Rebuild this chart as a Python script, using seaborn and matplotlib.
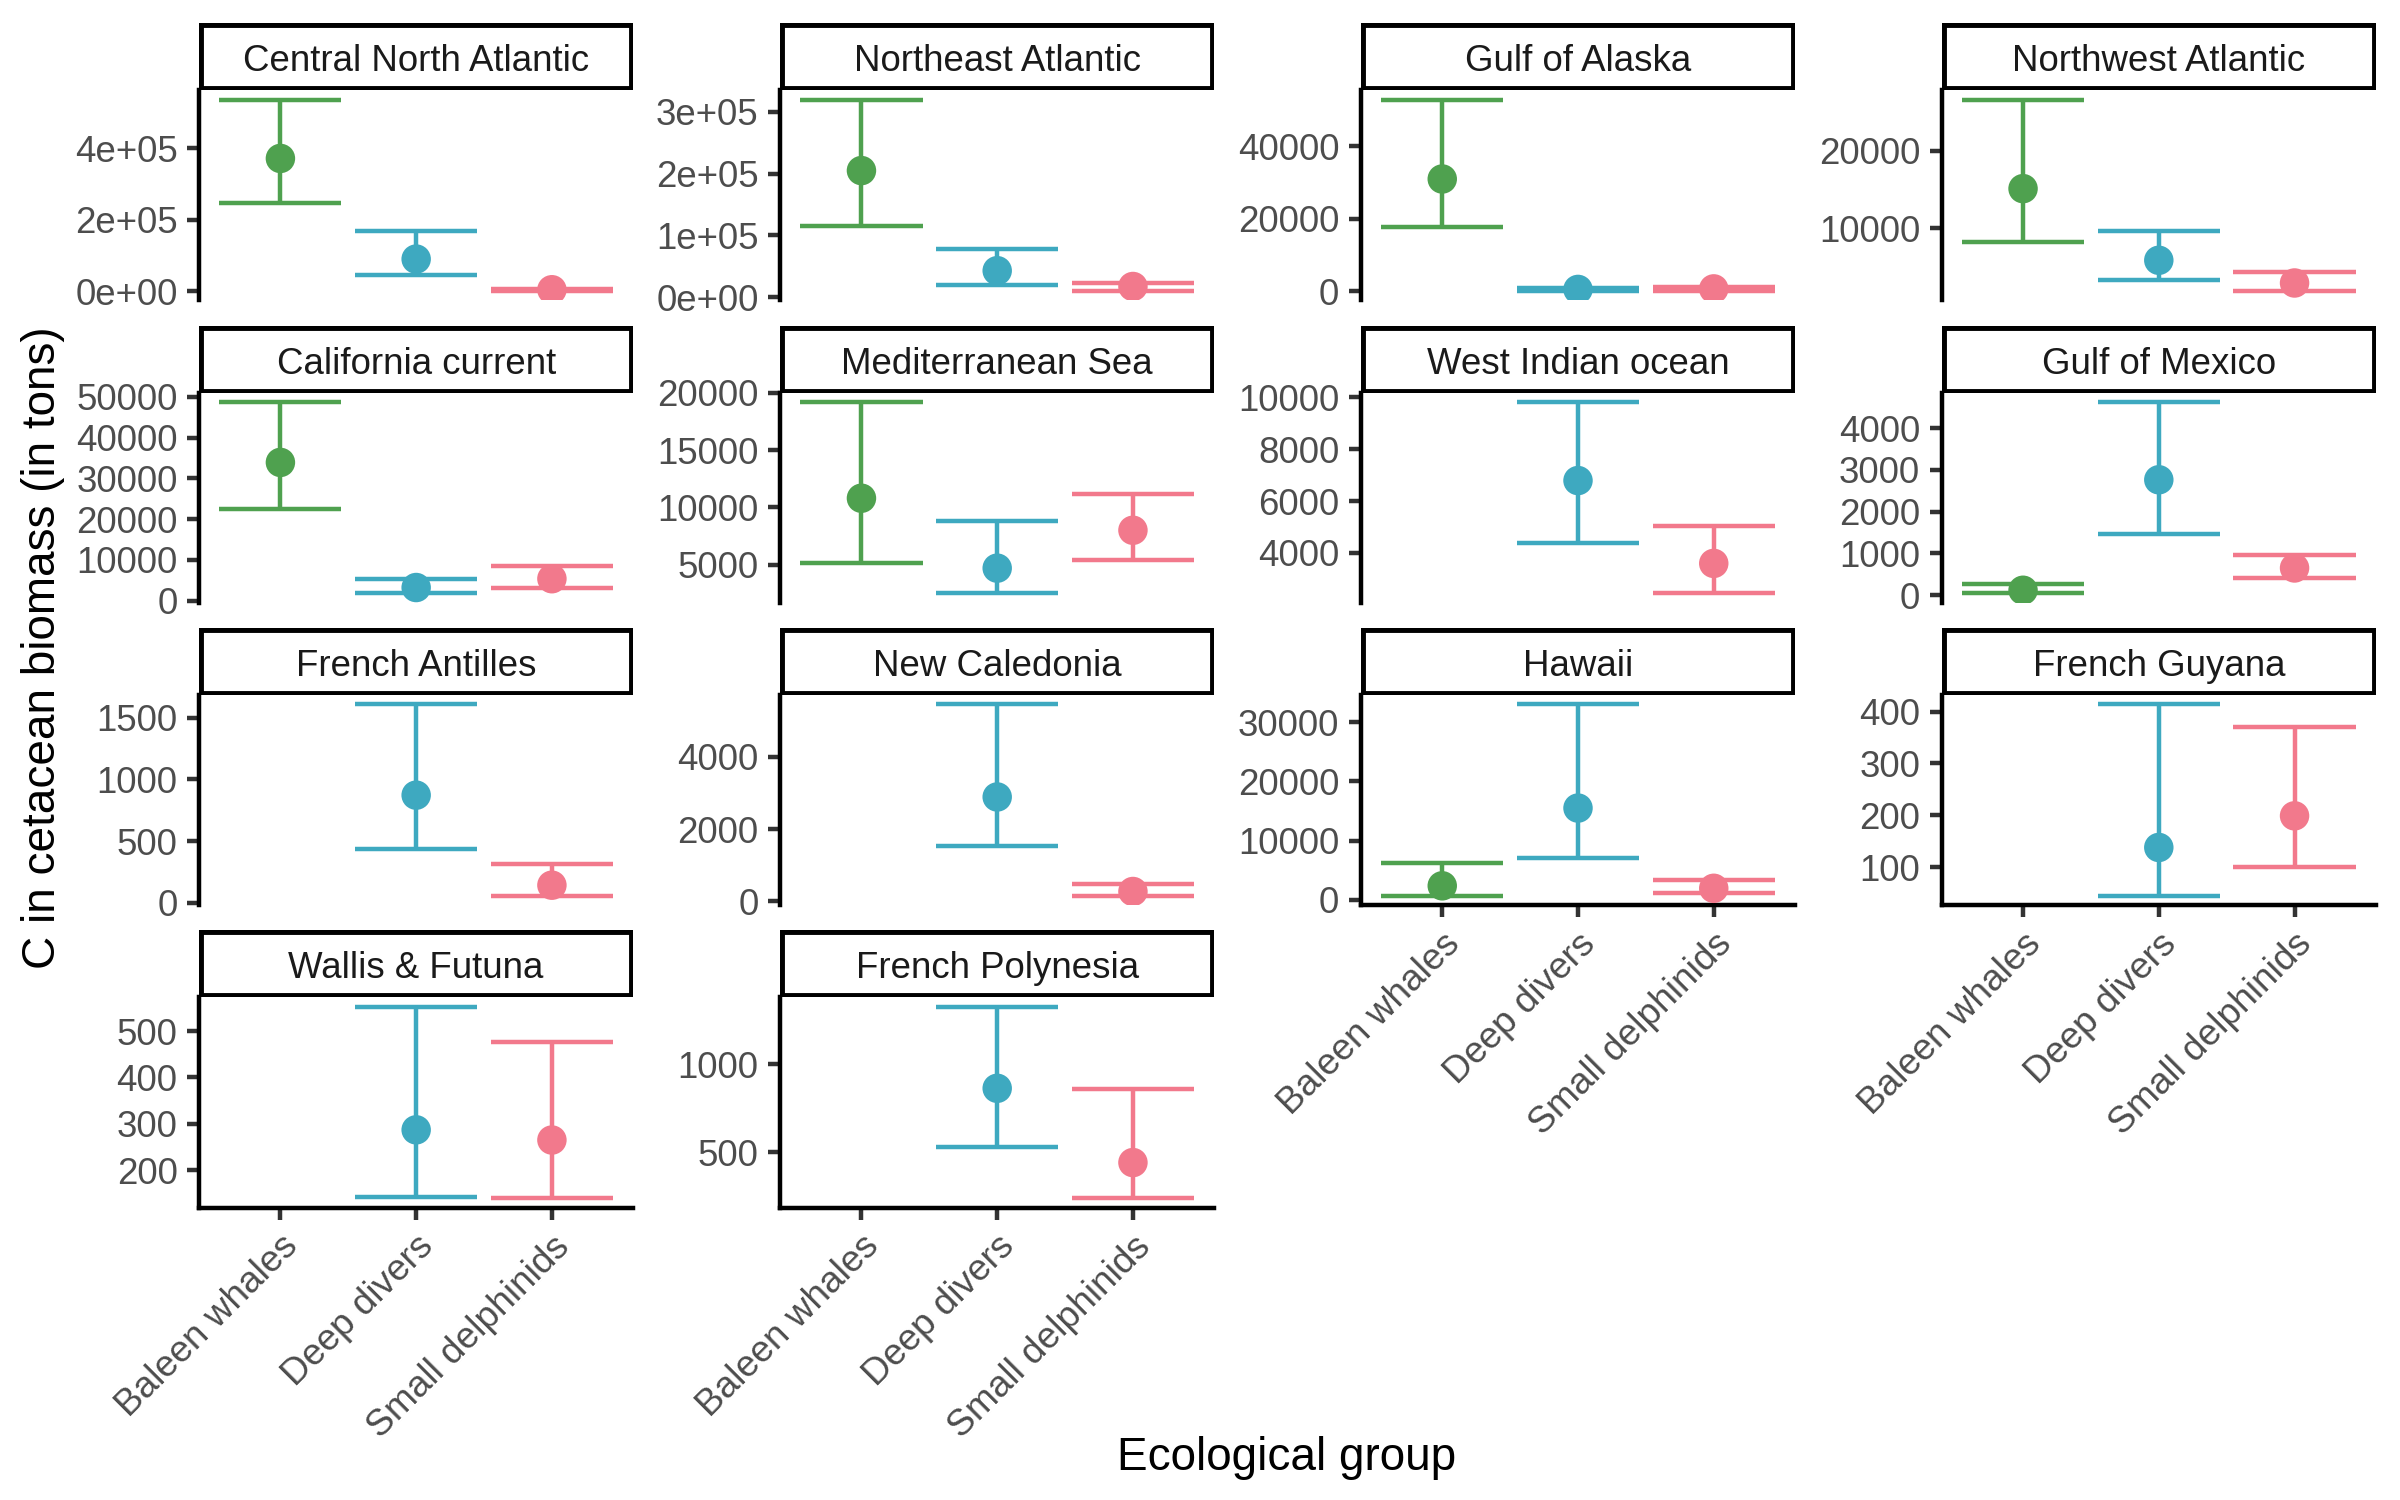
import numpy as np
import pandas as pd
import matplotlib
matplotlib.use("Agg")
import matplotlib.pyplot as plt
from matplotlib.patches import Rectangle
import seaborn as sns

nan = np.nan

regions = ["Central North Atlantic", "Northeast Atlantic", "Gulf of Alaska", "Northwest Atlantic",
           "California current", "Mediterranean Sea", "West Indian ocean", "Gulf of Mexico",
           "French Antilles", "New Caledonia", "Hawaii", "French Guyana",
           "Wallis & Futuna", "French Polynesia"]
groups = ["Baleen whales", "Deep divers", "Small delphinids"]

baleen_mean = [372000, 205000, 31000, 15100, 33900, 10800, nan, 114, nan, nan, 2380, nan, nan, nan]
baleen_lo = [247000, 116000, 17900, 8200, 22400, 5140, nan, 38, nan, nan, 714, nan, nan, nan]
baleen_hi = [537000, 320000, 52900, 26600, 48700, 19200, nan, 267, nan, nan, 6250, nan, nan, nan]

deep_mean = [90000, 42900, 550, 5850, 3200, 4690, 6790, 2760, 872, 2890, 15500, 138, 287, 863]
deep_lo = [45500, 19200, 200, 3330, 1750, 2480, 4390, 1460, 439, 1540, 7090, 45, 142, 533]
deep_hi = [170000, 78000, 1000, 9690, 5270, 8810, 9820, 4620, 1608, 5460, 33000, 414, 553, 1325]

small_mean = [4000, 17300, 700, 2920, 5360, 8000, 3590, 648, 142, 266, 1960, 199, 265, 443]
small_lo = [800, 10200, 150, 1900, 3100, 5390, 2430, 410, 57, 150, 1130, 100, 140, 243]
small_hi = [7300, 23700, 1300, 4360, 8400, 11200, 5050, 962, 314, 474, 3390, 370, 477, 858]

y_ticks = [
    [0, 200000, 400000], [0, 100000, 200000, 300000], [0, 20000, 40000], [10000, 20000],
    [0, 10000, 20000, 30000, 40000, 50000], [5000, 10000, 15000, 20000],
    [4000, 6000, 8000, 10000], [0, 1000, 2000, 3000, 4000],
    [0, 500, 1000, 1500], [0, 2000, 4000], [0, 10000, 20000, 30000], [100, 200, 300, 400],
    [200, 300, 400, 500], [500, 1000],
]
y_ticklabels = [
    ["0e+00", "2e+05", "4e+05"], ["0e+00", "1e+05", "2e+05", "3e+05"], ["0", "20000", "40000"],
    ["10000", "20000"], ["0", "10000", "20000", "30000", "40000", "50000"],
    ["5000", "10000", "15000", "20000"], ["4000", "6000", "8000", "10000"],
    ["0", "1000", "2000", "3000", "4000"], ["0", "500", "1000", "1500"], ["0", "2000", "4000"],
    ["0", "10000", "20000", "30000"], ["100", "200", "300", "400"],
    ["200", "300", "400", "500"], ["500", "1000"],
]

palette = {"Baleen whales": "#4FA14F", "Deep divers": "#3EA9C0", "Small delphinids": "#F2798C"}

# long table
rows = []
for i, reg in enumerate(regions):
    for g, m, lo, hi in [("Baleen whales", baleen_mean, baleen_lo, baleen_hi),
                         ("Deep divers", deep_mean, deep_lo, deep_hi),
                         ("Small delphinids", small_mean, small_lo, small_hi)]:
        rows.append({"region": reg, "group": g, "xpos": groups.index(g),
                     "mean": m[i], "lo": lo[i], "hi": hi[i]})
df = pd.DataFrame(rows)

sns.set_theme(style="white")
plt.rcParams["font.family"] = ["Liberation Sans", "DejaVu Sans"]

fig = plt.figure(figsize=(8, 5), dpi=300)
fig.patch.set_facecolor("white")

lefts = [0.0829, 0.325, 0.567, 0.809]
bottoms = [0.7997, 0.598, 0.3965, 0.195]
pw, ph = 0.181, 0.1403
strip_h = 0.0445 / ph
lw = 1.07

for i, reg in enumerate(regions):
    r, c = divmod(i, 4)
    ax = fig.add_axes([lefts[c], bottoms[r], pw, ph])
    ax.set_facecolor("white")
    sub = df[(df.region == reg)].dropna(subset=["mean"])
    for _, row in sub.iterrows():
        col = palette[row.group]
        ax.vlines(row.xpos, row.lo, row.hi, color=col, lw=lw, zorder=2)
        ax.hlines([row.lo, row.hi], row.xpos - 0.45, row.xpos + 0.45, color=col, lw=lw, zorder=2)
    sns.scatterplot(data=sub, x="xpos", y="mean", hue="group", palette=palette, s=50,
                    linewidth=0, legend=False, ax=ax, zorder=3)
    ax.set_xlim(-0.6, 2.6)
    ax.margins(y=0.05)
    ax.autoscale_view()
    yl = ax.get_ylim()
    ax.set_yticks(y_ticks[i])
    ax.set_yticklabels(y_ticklabels[i])
    ax.set_ylim(yl)
    ax.set_xlabel("")
    ax.set_ylabel("")
    for s in ["top", "right"]:
        ax.spines[s].set_visible(False)
    ax.spines["left"].set_linewidth(lw)
    ax.spines["left"].set_color("black")
    ax.tick_params(axis="y", length=2.75 * 1.07, width=lw, color="#333333",
                   labelsize=8.8, labelcolor="#4D4D4D", pad=2.2, left=True)
    is_bottom = i >= 10
    if is_bottom:
        ax.spines["bottom"].set_linewidth(lw)
        ax.spines["bottom"].set_color("black")
        ax.set_xticks(range(len(groups)))
        ax.set_xticklabels(groups, rotation=45, ha="right", va="top", rotation_mode="anchor")
        ax.tick_params(axis="x", length=2.75 * 1.07, width=lw, color="#333333",
                       labelsize=8.9, labelcolor="#4D4D4D", pad=2.2, bottom=True)
    else:
        ax.spines["bottom"].set_visible(False)
        ax.set_xticks([])
    ax.grid(False)
    # strip: thick border clipped to the strip box (inner half visible)
    rect = Rectangle((0, 1), 1, strip_h, transform=ax.transAxes, facecolor="white",
                     edgecolor="black", lw=2.13, zorder=5)
    clip = Rectangle((0, 1), 1, strip_h, transform=ax.transAxes, facecolor="none",
                     edgecolor="none")
    ax.add_patch(rect)
    rect.set_clip_on(True)
    rect.set_clip_path(clip)
    ax.text(0.5, 1 + strip_h / 2 - 0.004, reg, transform=ax.transAxes, ha="center",
            va="center_baseline", fontsize=8.8, color="#1A1A1A", zorder=6, clip_on=False)

fig.text(0.018, 0.568, "C in cetacean biomass (in tons)", rotation=90, ha="center", va="center",
         fontsize=11, color="black")
fig.text(0.536, 0.028, "Ecological group", ha="center", va="center", fontsize=11, color="black")

fig.savefig("out.png", dpi=300, facecolor="white")
